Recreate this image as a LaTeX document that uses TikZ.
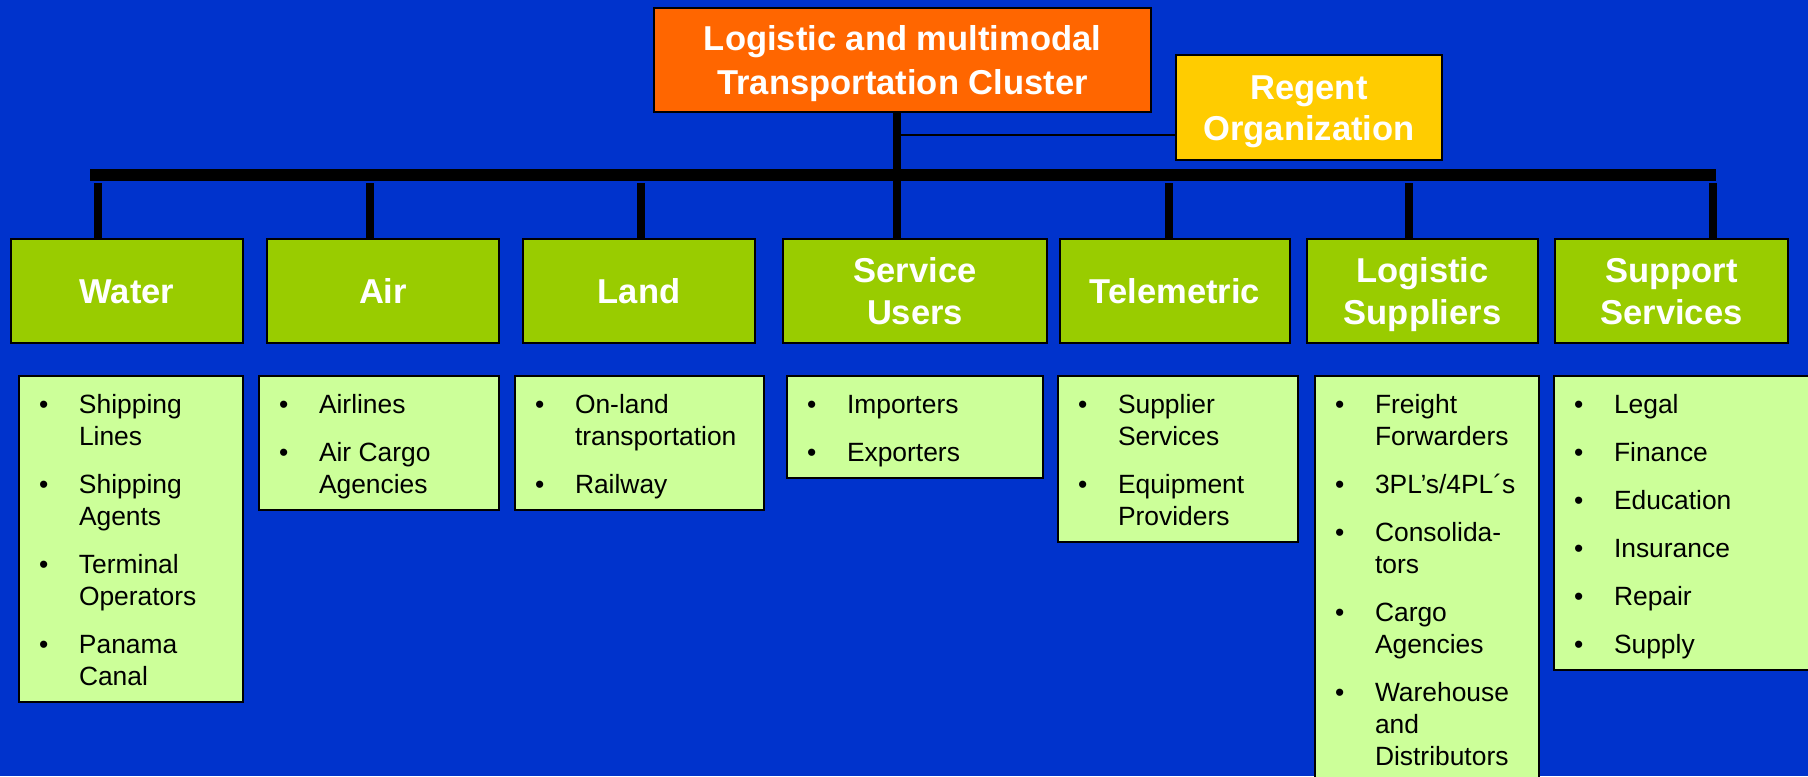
\documentclass[tikz,border=0pt]{standalone}
\usepackage{fontspec}
\setmainfont{Liberation Sans}
\newdimen\px \px=0.75pt
\definecolor{bgblue}{RGB}{0,51,204}
\definecolor{orangebox}{RGB}{255,102,0}
\definecolor{yellowbox}{RGB}{255,204,0}
\definecolor{greenbox}{RGB}{153,204,0}
\definecolor{listfill}{RGB}{204,255,153}
\newcommand{\hdrfont}{\fontsize{25.9}{31.1}\selectfont\bfseries}
\newcommand{\titlefont}{\fontsize{25.9}{33}\selectfont\bfseries}
\newcommand{\regentfont}{\fontsize{25.9}{30.2}\selectfont\bfseries}
\newcommand{\hs}{\rule[-5.7pt]{0pt}{30pt}}
\newcommand{\listfont}{\fontsize{19.8}{24}\selectfont}
\newcommand{\fitm}[1]{\hangindent=40\px\hangafter=1\noindent\rule{0pt}{37\px}\makebox[40\px][l]{\textbullet}#1}
\newcommand{\itm}[1]{\par\hangindent=40\px\hangafter=1\noindent\makebox[40\px][l]{\textbullet}#1}
\newcommand{\blist}[3]{\begin{minipage}[t][#2\px][t]{#1\px}\listfont\raggedright\leftskip=20\px\parindent=0pt\parskip=16\px #3\par\end{minipage}}
\tikzset{
  wh/.style 2 args={minimum width=#1*0.75pt, minimum height=#2*0.75pt},
  boxbase/.style={draw=black, line width=1.5pt, anchor=north west, inner sep=0pt},
  titlebox/.style={boxbase, fill=orangebox, text=white, font=\titlefont, align=center},
  regentbox/.style={boxbase, fill=yellowbox, text=white, font=\regentfont, align=center},
  hdrbox/.style={boxbase, fill=greenbox, text=white, font=\hdrfont, align=center},
  listbox/.style={boxbase, fill=listfill, text=black},
  barline/.style={line width=9pt, black},
  dropline/.style={line width=6pt, black},
  thinline/.style={line width=1.5pt, black}
}
\begin{document}
\begin{tikzpicture}[x=0.75pt,y=-0.75pt]
\useasboundingbox (0,0) rectangle (1808,776);
\clip (0,0) rectangle (1808,776);
\fill[bgblue] (0,0) rectangle (1808,776);

% top boxes
\node[titlebox, wh={497}{104}] (main) at (653,7) {\hs Logistic and multimodal\\\hs Transportation Cluster};
\node[regentbox, wh={266}{105}] (regent) at (1175,54) {\hs Regent\\\hs Organization};

% header boxes
\node[hdrbox, wh={232}{104}] (water) at (10,238) {\hs Water};
\node[hdrbox, wh={232}{104}] (air) at (266,238) {\hs Air};
\node[hdrbox, wh={232}{104}] (land) at (522,238) {\hs Land};
\node[hdrbox, wh={264}{104}] (service) at (782,238) {\hs Service\\\hs Users};
\node[hdrbox, wh={230}{104}] (tele) at (1059,238) {\hs Telemetric};
\node[hdrbox, wh={231}{104}] (logi) at (1306,238) {\hs Logistic\\\hs Suppliers};
\node[hdrbox, wh={233}{104}] (supp) at (1554,238) {\hs Support\\\hs Services};

% list boxes
\node[listbox] (wl) at (18,375) {\blist{224}{326}{\fitm{Shipping\newline Lines}\itm{Shipping\newline Agents}\itm{Terminal\newline Operators}\itm{Panama\newline Canal}}};
\node[listbox] (al) at (258,375) {\blist{240}{134}{\fitm{Airlines}\itm{Air Cargo\newline Agencies}}};
\node[listbox] (ll) at (514,375) {\blist{249}{134}{\fitm{On-land\newline transportation}\itm{Railway}}};
\node[listbox] (sl) at (786,375) {\blist{256}{102}{\fitm{Importers}\itm{Exporters}}};
\node[listbox] (tl) at (1057,375) {\blist{240}{166}{\fitm{Supplier\newline Services}\itm{Equipment\newline Providers}}};
\node[listbox] (lgl) at (1314,375) {\blist{224}{430}{\fitm{Freight\newline Forwarders}\itm{3PL’s/4PL´s}\itm{Consolida-\newline tors}\itm{Cargo\newline Agencies}\itm{Warehouse\newline and\newline Distributors}}};
\node[listbox] (spl) at (1553,375) {\blist{270}{294}{\fitm{Legal}\itm{Finance}\itm{Education}\itm{Insurance}\itm{Repair}\itm{Supply}}};

% connectors
\coordinate (barL) at (90,175);
\coordinate (barR) at (1716,175);
\draw[barline] (barL) -- (barR);
\coordinate (tk) at (897,0);
\draw[dropline] (main.south -| tk) -- (service.north -| tk);
\coordinate (rj) at (897,135);
\draw[thinline] (rj) -- (rj -| regent.west);
\coordinate (dw) at (98,183);
\coordinate (da) at (370,183);
\coordinate (dl) at (641,183);
\coordinate (dt) at (1169,183);
\coordinate (dg) at (1409,183);
\coordinate (ds) at (1713,183);
\draw[dropline] (dw) -- (dw |- water.north);
\draw[dropline] (da) -- (da |- air.north);
\draw[dropline] (dl) -- (dl |- land.north);
\draw[dropline] (dt) -- (dt |- tele.north);
\draw[dropline] (dg) -- (dg |- logi.north);
\draw[dropline] (ds) -- (ds |- supp.north);
\end{tikzpicture}
\end{document}
